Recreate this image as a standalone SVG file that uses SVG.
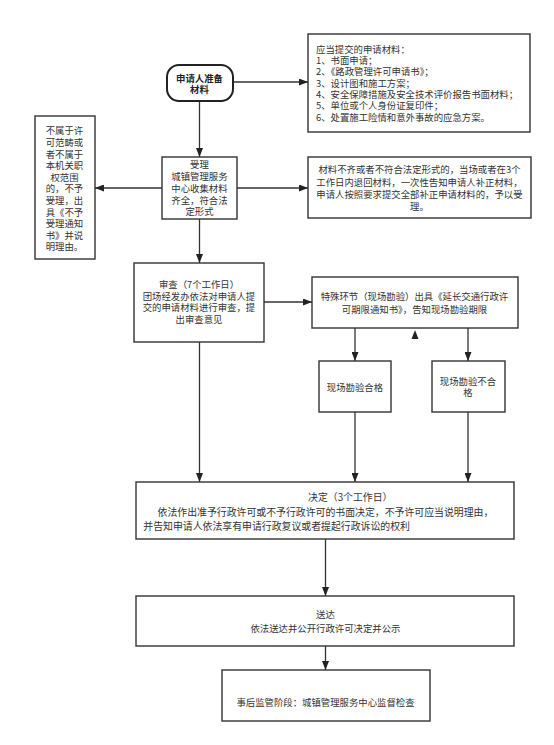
<svg xmlns="http://www.w3.org/2000/svg" width="554" height="745" viewBox="0 0 554 745">
<style>
.box{fill:#fff;stroke:#333;stroke-width:1.4}
.start{fill:#fff;stroke:#222;stroke-width:2}
.t{font-family:"Noto Sans CJK SC","Noto Sans",sans-serif;font-size:9.4px;fill:#333}
.c{text-anchor:middle}
.b{font-weight:bold;fill:#222}
.d{font-size:9.9px}
.ln{fill:none;stroke:#333;stroke-width:1.3;marker-end:url(#arr)}
</style>
<defs>
<marker id="arr" markerUnits="userSpaceOnUse" markerWidth="9" markerHeight="7" refX="9" refY="3.5" orient="auto">
<path d="M0,0 L9,3.5 L0,7 z" fill="#222"/>
</marker>
</defs>
<rect width="554" height="745" fill="#fff"/>
<g id="connectors">
<line class="ln" x1="233" y1="82" x2="308" y2="82"/>
<line class="ln" x1="199.5" y1="101" x2="199.5" y2="157"/>
<line class="ln" x1="162" y1="188" x2="95" y2="188"/>
<line class="ln" x1="237" y1="188" x2="308" y2="188"/>
<line class="ln" x1="199.5" y1="219" x2="199.5" y2="263"/>
<line class="ln" x1="264" y1="302" x2="312" y2="302"/>
<line class="ln" x1="355" y1="328" x2="355" y2="361"/>
<line class="ln" x1="468" y1="328" x2="468" y2="361"/>
<polygon points="415,330 411.5,339 418.5,339" fill="#222"/>
<line class="ln" x1="199.5" y1="338" x2="199.5" y2="482"/>
<line class="ln" x1="355" y1="412" x2="355" y2="482"/>
<line class="ln" x1="468" y1="412" x2="468" y2="482"/>
<line class="ln" x1="325.5" y1="539" x2="325.5" y2="596"/>
<line class="ln" x1="325.5" y1="646" x2="325.5" y2="670"/>
</g>
<g id="start">
<rect class="start" x="167" y="65" width="66" height="36" rx="12" ry="12"/>
<text class="t c b" x="199.5" y="82.4">申请人准备<tspan x="199.5" dy="10.3">材料</tspan></text>
</g>
<g id="materials">
<rect class="box" x="308" y="34" width="222" height="98"/>
<text class="t" x="316" y="52.7">应当提交的申请材料：<tspan x="316" dy="11.35">1、书面申请；</tspan><tspan x="316" dy="11.35">2、《路政管理许可申请书》；</tspan><tspan x="316" dy="11.35">3、设计图和施工方案；</tspan><tspan x="316" dy="11.35">4、安全保障措施及安全技术评价报告书面材料；</tspan><tspan x="316" dy="11.35">5、单位或个人身份证复印件；</tspan><tspan x="316" dy="11.35">6、处置施工险情和意外事故的应急方案。</tspan></text>
</g>
<g id="reject">
<rect class="box" x="35" y="116" width="60" height="143"/>
<text class="t c" x="64.5" y="134.4">不属于许<tspan x="64.5" dy="11.6">可范畴或</tspan><tspan x="64.5" dy="11.6">者不属于</tspan><tspan x="64.5" dy="11.6">本机关职</tspan><tspan x="64.5" dy="11.6">权范围</tspan><tspan x="64.5" dy="11.6">的，不予</tspan><tspan x="64.5" dy="11.6">受理，出</tspan><tspan x="64.5" dy="11.6">具《不予</tspan><tspan x="64.5" dy="11.6">受理通知</tspan><tspan x="64.5" dy="11.6">书》并说</tspan><tspan x="64.5" dy="11.6">明理由。</tspan></text>
</g>
<g id="accept">
<rect class="box" x="162" y="157" width="75" height="62"/>
<text class="t c" x="199.5" y="168.4">受理<tspan x="199.5" dy="11.75">城镇管理服务</tspan><tspan x="199.5" dy="11.75">中心收集材料</tspan><tspan x="199.5" dy="11.75">齐全，符合法</tspan><tspan x="199.5" dy="11.75">定形式</tspan></text>
</g>
<g id="supplement">
<rect class="box" x="308" y="157" width="223" height="61"/>
<text class="t c" x="419.5" y="173.4">材料不齐或者不符合法定形式的，当场或者在3个<tspan x="419.5" dy="12.2">工作日内退回材料，一次性告知申请人补正材料，</tspan><tspan x="419.5" dy="12.2">申请人按照要求提交全部补正申请材料的，予以受</tspan><tspan x="419.5" dy="12.2">理。</tspan></text>
</g>
<g id="review">
<rect class="box" x="134" y="263" width="130" height="79"/>
<text class="t c" x="199" y="287.7">审查（7个工作日）<tspan x="199" dy="11.8">团场经发办依法对申请人提</tspan><tspan x="199" dy="11.8">交的申请材料进行审查，提</tspan><tspan x="199" dy="11.8">出审查意见</tspan></text>
</g>
<g id="special">
<rect class="box" x="312" y="277" width="206" height="51"/>
<text class="t c" x="414.5" y="300">特殊环节（现场勘验）出具《延长交通行政许<tspan x="414.5" dy="12.7">可期限通知书》，告知现场勘验期限</tspan></text>
</g>
<g id="pass">
<rect class="box" x="319" y="361" width="72" height="51"/>
<text class="t c" x="355" y="391">现场勘验合格</text>
</g>
<g id="fail">
<rect class="box" x="432" y="361" width="73" height="51"/>
<text class="t c" x="468" y="385">现场勘验不合<tspan x="468" dy="11">格</tspan></text>
</g>
<g id="decision">
<rect class="box" x="136" y="482" width="378" height="57"/>
<text class="t d" x="308" y="500.5">决定（3个工作日）<tspan x="157.5" dy="15">依法作出准予行政许可或不予行政许可的书面决定，不予许可应当说明理由，</tspan><tspan x="143.3" dy="14.5">并告知申请人依法享有申请行政复议或者提起行政诉讼的权利</tspan></text>
</g>
<g id="delivery">
<rect class="box" x="136" y="596" width="378" height="50"/>
<text class="t c" x="325.5" y="618.4">送达<tspan x="325.5" dy="13.3">依法送达并公开行政许可决定并公示</tspan></text>
</g>
<g id="supervision">
<rect class="box" x="222" y="670" width="208" height="51"/>
<text class="t c" x="325.5" y="706">事后监管阶段：城镇管理服务中心监督检查</text>
</g>
</svg>
